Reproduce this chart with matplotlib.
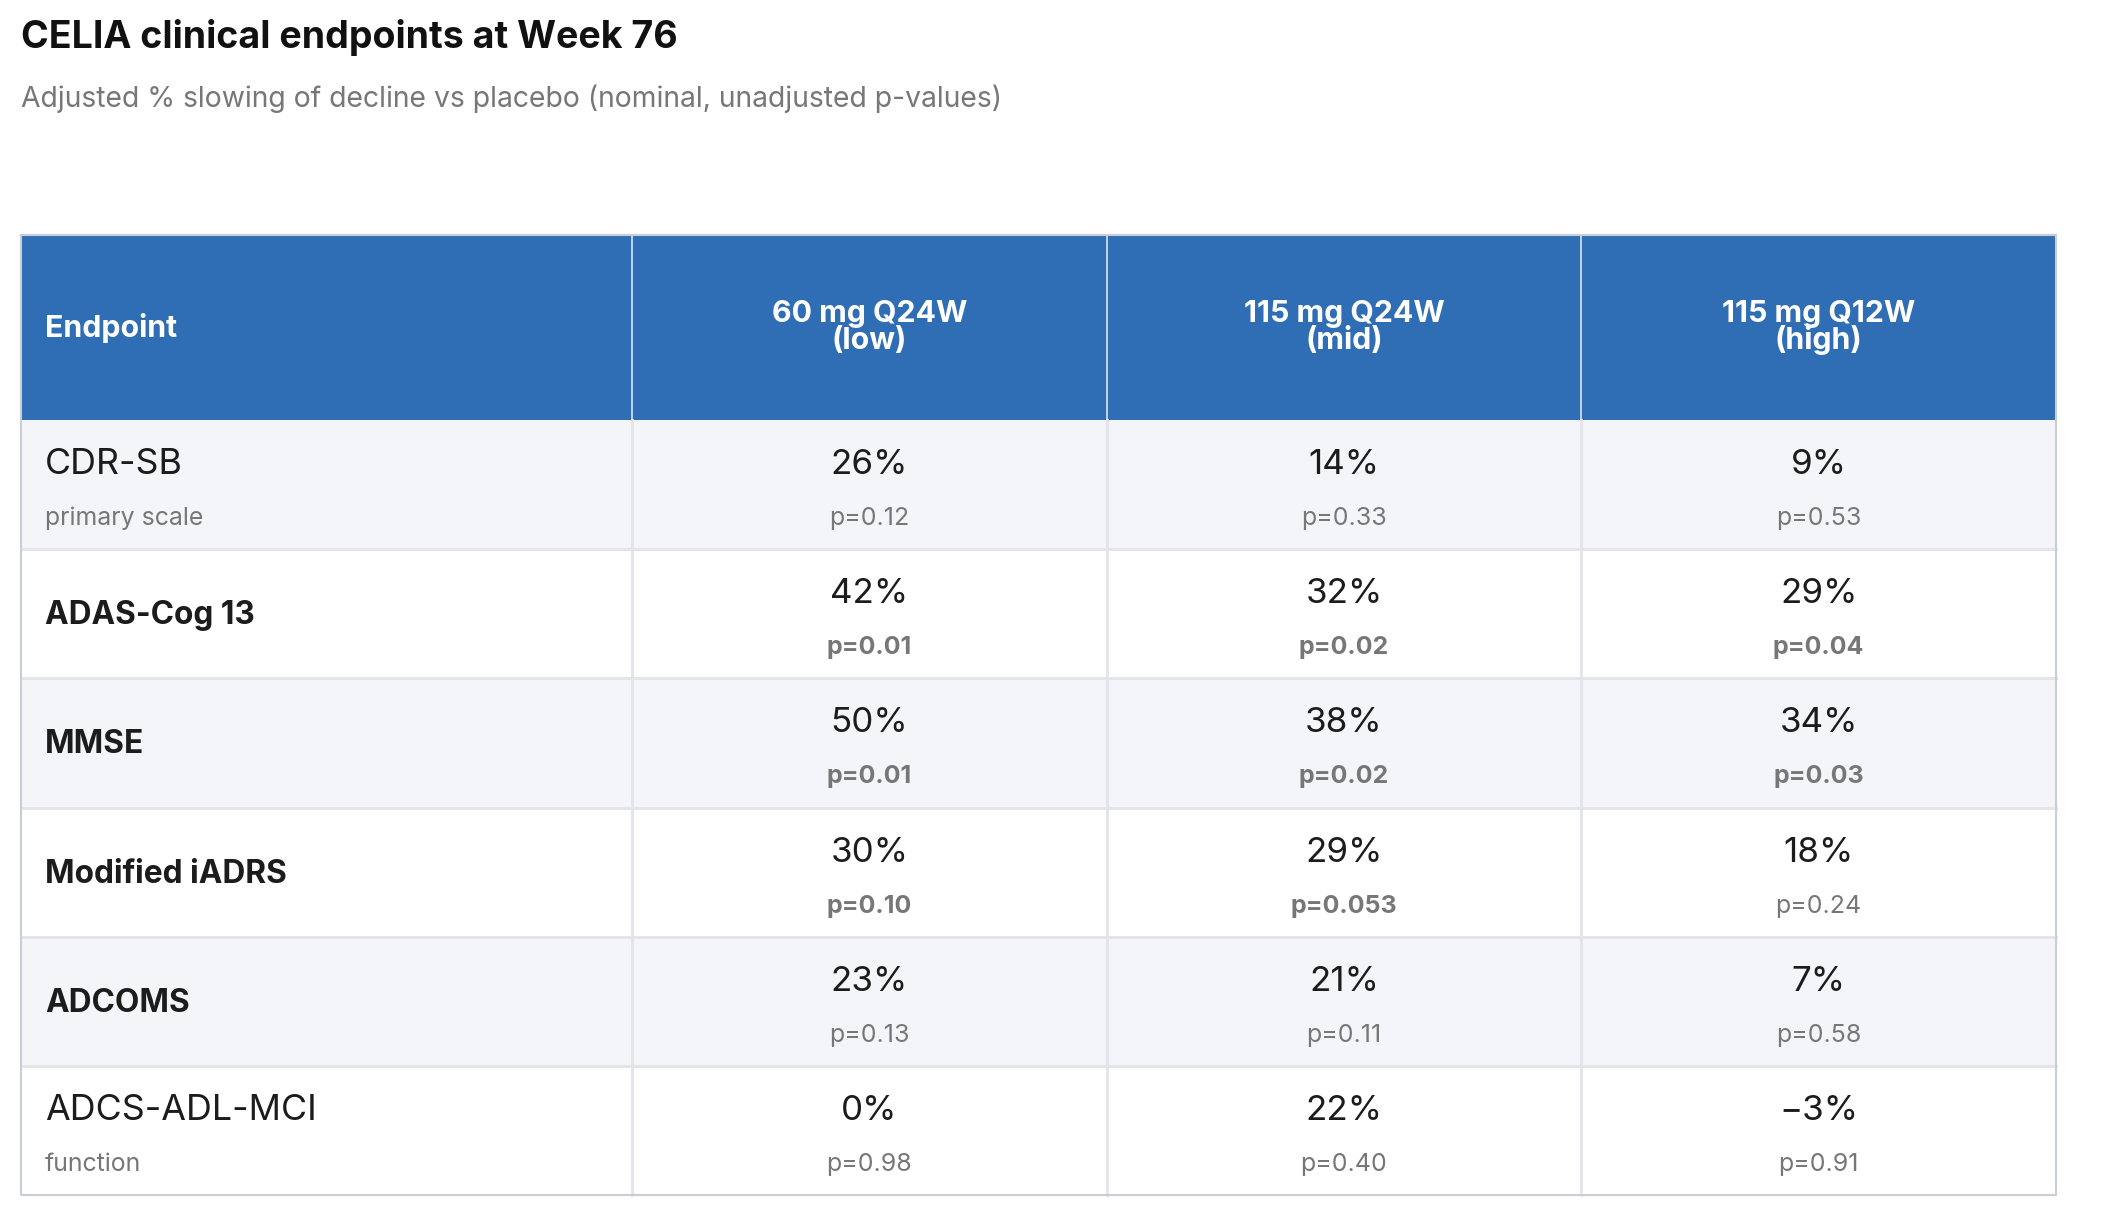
import matplotlib.pyplot as plt
from matplotlib.patches import Rectangle

plt.rcParams['font.family'] = ['Inter', 'DejaVu Sans']

# data
endpoints = ['CDR-SB', 'ADAS-Cog 13', 'MMSE', 'Modified iADRS', 'ADCOMS', 'ADCS-ADL-MCI']
endpoint_notes = ['primary scale', '', '', '', '', 'function']
dose_labels = ['60 mg Q24W\n(low)', '115 mg Q24W\n(mid)', '115 mg Q12W\n(high)']
slowing_low = [26, 42, 50, 30, 23, 0]
slowing_mid = [14, 32, 38, 29, 21, 22]
slowing_high = [9, 29, 34, 18, 7, -3]
p_low = ['0.12', '0.01', '0.01', '0.10', '0.13', '0.98']
p_mid = ['0.33', '0.02', '0.02', '0.053', '0.11', '0.40']
p_high = ['0.53', '0.04', '0.03', '0.24', '0.58', '0.91']

slowing = [slowing_low, slowing_mid, slowing_high]
pvals = [p_low, p_mid, p_high]

# layout (pixels)
W, H = 2110, 1213
left, right = 21, 2056
first_col_right = 632
head_top, head_bot = 235, 420
row_h = 129.2

header_blue = '#2f6db4'
shade = '#f4f5f9'
grid_c = '#e2e4e9'
border_c = '#c8cdd6'
text_c = '#1c1c1c'
grey_c = '#777777'

fig = plt.figure(figsize=(W / 100, H / 100), dpi=100)
ax = fig.add_axes([0, 0, 1, 1])
ax.set_xlim(0, W)
ax.set_ylim(H, 0)
ax.axis('off')

fig.text(21 / W, 1 - 48 / H, 'CELIA clinical endpoints at Week 76', fontsize=27,
         fontweight='bold', color='#111111', ha='left', va='baseline')
fig.text(21 / W, 1 - 107 / H, 'Adjusted % slowing of decline vs placebo (nominal, unadjusted p-values)',
         fontsize=20.4, color=grey_c, ha='left', va='baseline')

ncol = len(dose_labels)
col_w = (right - first_col_right) / ncol
col_edges = [left, first_col_right] + [first_col_right + col_w * (i + 1) for i in range(ncol)]

# header
ax.add_patch(Rectangle((left, head_top), right - left, head_bot - head_top,
                       facecolor=header_blue, edgecolor='none', zorder=1))
ax.plot([left, right], [head_top, head_top], color=border_c, lw=1.5, zorder=3)
for x in col_edges[1:-1]:
    ax.plot([x, x], [head_top, head_bot], color='#dce6f2', lw=1.2, zorder=2)
ax.text(45, 337, 'Endpoint', fontsize=21.8, fontweight='bold', color='white',
        ha='left', va='baseline', zorder=4)
for j, lab in enumerate(dose_labels):
    cx = (col_edges[j + 1] + col_edges[j + 2]) / 2
    l1, l2 = lab.split('\n')
    ax.text(cx, 322, l1, fontsize=21.8, fontweight='bold', color='white',
            ha='center', va='baseline', zorder=4)
    ax.text(cx, 349, l2, fontsize=21.8, fontweight='bold', color='white',
            ha='center', va='baseline', zorder=4)

# body
for i, name in enumerate(endpoints):
    top = head_bot + i * row_h
    fc = shade if i % 2 == 0 else 'white'
    ax.add_patch(Rectangle((left, top), right - left, row_h, facecolor=fc,
                           edgecolor='none', zorder=1))
    if i > 0:
        ax.plot([left, right], [top, top], color=grid_c, lw=2, zorder=2)
    note = endpoint_notes[i]
    if note:
        ax.text(45, top + 54, name, fontsize=25.8, color=text_c, ha='left',
                va='baseline', zorder=4)
        ax.text(45, top + 105, note, fontsize=17.9, color=grey_c, ha='left',
                va='baseline', zorder=4)
    else:
        ax.text(45, top + 75, name, fontsize=22.8, fontweight='bold', color=text_c,
                ha='left', va='baseline', zorder=4)
    for j in range(ncol):
        cx = (col_edges[j + 1] + col_edges[j + 2]) / 2
        v = slowing[j][i]
        vs = f'\u2212{abs(v)}%' if v < 0 else f'{v}%'
        ax.text(cx, top + 54, vs, fontsize=25.2, color=text_c, ha='center',
                va='baseline', zorder=4)
        p = pvals[j][i]
        bold = float(p) <= 0.10
        ax.text(cx, top + 105, f'p={p}', fontsize=18, color=grey_c,
                fontweight='bold' if bold else 'normal', ha='center',
                va='baseline', zorder=4)

body_bot = head_bot + len(endpoints) * row_h
for x in col_edges[1:-1]:
    ax.plot([x, x], [head_bot, body_bot], color=grid_c, lw=2, zorder=2)
ax.plot([left, right, right, left, left], [head_top, head_top, body_bot, body_bot, head_top],
        color=border_c, lw=1.5, zorder=3)

fig.savefig('out.png', dpi=100, facecolor='white')
